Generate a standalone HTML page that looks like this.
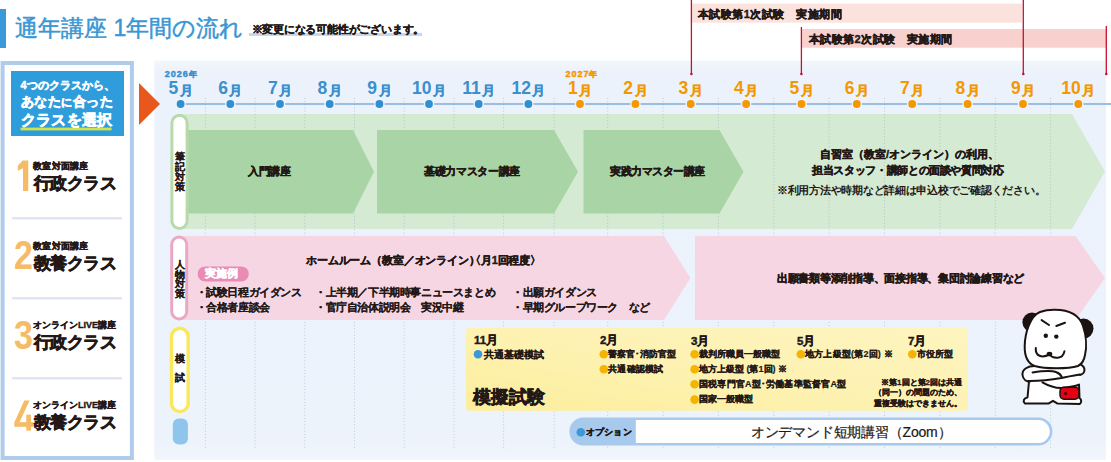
<!DOCTYPE html>
<html><head><meta charset="utf-8"><title>通年講座 1年間の流れ</title>
<style>
html,body{margin:0;padding:0}
body{width:1111px;height:462px;position:relative;overflow:hidden;background:#fff;font-family:"Liberation Sans",sans-serif;color:#231815}
.a{position:absolute;white-space:nowrap;line-height:1}
.b{font-weight:bold}
.h{font-weight:bold;-webkit-text-stroke-width:0.42px}
svg{position:absolute;left:0;top:0}
</style></head><body>

<svg width="1111" height="462" viewBox="0 0 1111 462">
<defs><linearGradient id="tlbg" x1="0" y1="0" x2="0" y2="1"><stop offset="0" stop-color="#f3f7fc"/><stop offset="0.03" stop-color="#ecf2fb"/><stop offset="0.95" stop-color="#edf3fb"/><stop offset="1" stop-color="#f1f6fc"/></linearGradient><linearGradient id="ylw" x1="0" y1="1" x2="1" y2="0"><stop offset="0" stop-color="#fcee9c"/><stop offset="0.5" stop-color="#fdf2b2"/><stop offset="1" stop-color="#fdf5c0"/></linearGradient></defs>
<rect x="0" y="9" width="6" height="39" fill="#3a9ad9"/>
<rect x="249" y="33" width="173" height="3" fill="#c6d8ee"/>
<rect x="692" y="3.6" width="330" height="19" fill="#fce2dd"/>
<rect x="802" y="29" width="304.3" height="18.7" fill="#f8d0cd"/>
<rect x="154.3" y="60.5" width="951.7" height="399.3" fill="url(#tlbg)"/>
<rect x="2.6" y="63" width="129.3" height="395" fill="#fff" stroke="#b0ccec" stroke-width="4"/>
<rect x="11" y="71" width="113" height="65" fill="#2f9cdb"/>
<rect x="20.5" y="127.6" width="91" height="2.8" fill="#cfe34a"/>
<rect x="12" y="217" width="110" height="2.5" fill="#dfe5f4"/>
<rect x="12" y="297" width="110" height="2.5" fill="#dfe5f4"/>
<rect x="12" y="377" width="110" height="2.5" fill="#dfe5f4"/>
<polygon points="139,83 160,104 139,125" fill="#e8581c"/>
<rect x="184" y="103.1" width="927" height="1.8" fill="#93b8dc"/>
<line x1="691.4" y1="0" x2="691.4" y2="74" stroke="#c8102e" stroke-width="1.3"/>
<circle cx="691.4" cy="74" r="1.3" fill="#c8102e"/>
<line x1="801.4" y1="27" x2="801.4" y2="74" stroke="#c8102e" stroke-width="1.3"/>
<circle cx="801.4" cy="74" r="1.3" fill="#c8102e"/>
<line x1="1023.3" y1="0" x2="1023.3" y2="74" stroke="#c8102e" stroke-width="1.3"/>
<circle cx="1023.3" cy="74" r="1.3" fill="#c8102e"/>
<line x1="1106.3" y1="26" x2="1106.3" y2="74" stroke="#c8102e" stroke-width="1.3"/>
<circle cx="1106.3" cy="74" r="1.3" fill="#c8102e"/>
<circle cx="180.6" cy="104" r="5.3" fill="#edf3fb"/>
<circle cx="180.6" cy="104" r="3.9" fill="#2f8fd0"/>
<circle cx="230.3" cy="104" r="5.3" fill="#edf3fb"/>
<circle cx="230.3" cy="104" r="3.9" fill="#2f8fd0"/>
<circle cx="280.0" cy="104" r="5.3" fill="#edf3fb"/>
<circle cx="280.0" cy="104" r="3.9" fill="#2f8fd0"/>
<circle cx="329.7" cy="104" r="5.3" fill="#edf3fb"/>
<circle cx="329.7" cy="104" r="3.9" fill="#2f8fd0"/>
<circle cx="379.4" cy="104" r="5.3" fill="#edf3fb"/>
<circle cx="379.4" cy="104" r="3.9" fill="#2f8fd0"/>
<circle cx="429.0" cy="104" r="5.3" fill="#edf3fb"/>
<circle cx="429.0" cy="104" r="3.9" fill="#2f8fd0"/>
<circle cx="478.7" cy="104" r="5.3" fill="#edf3fb"/>
<circle cx="478.7" cy="104" r="3.9" fill="#2f8fd0"/>
<circle cx="528.4" cy="104" r="5.3" fill="#edf3fb"/>
<circle cx="528.4" cy="104" r="3.9" fill="#2f8fd0"/>
<circle cx="580.0" cy="104" r="5.3" fill="#edf3fb"/>
<circle cx="580.0" cy="104" r="3.9" fill="#f39800"/>
<circle cx="635.4" cy="104" r="5.3" fill="#edf3fb"/>
<circle cx="635.4" cy="104" r="3.9" fill="#f39800"/>
<circle cx="690.7" cy="104" r="5.3" fill="#edf3fb"/>
<circle cx="690.7" cy="104" r="3.9" fill="#f39800"/>
<circle cx="746.1" cy="104" r="5.3" fill="#edf3fb"/>
<circle cx="746.1" cy="104" r="3.9" fill="#f39800"/>
<circle cx="801.5" cy="104" r="5.3" fill="#edf3fb"/>
<circle cx="801.5" cy="104" r="3.9" fill="#f39800"/>
<circle cx="856.8" cy="104" r="5.3" fill="#edf3fb"/>
<circle cx="856.8" cy="104" r="3.9" fill="#f39800"/>
<circle cx="912.2" cy="104" r="5.3" fill="#edf3fb"/>
<circle cx="912.2" cy="104" r="3.9" fill="#f39800"/>
<circle cx="967.6" cy="104" r="5.3" fill="#edf3fb"/>
<circle cx="967.6" cy="104" r="3.9" fill="#f39800"/>
<circle cx="1023.0" cy="104" r="5.3" fill="#edf3fb"/>
<circle cx="1023.0" cy="104" r="3.9" fill="#f39800"/>
<circle cx="1078.3" cy="104" r="5.3" fill="#edf3fb"/>
<circle cx="1078.3" cy="104" r="3.9" fill="#f39800"/>
<polygon points="180,114 1072,114 1105,171.5 1072,229 180,229" fill="#d5ead3"/>
<line x1="205.4" y1="98" x2="205.4" y2="448" stroke="#7f93b3" stroke-opacity="0.42" stroke-width="1" stroke-dasharray="1 2.2"/>
<line x1="255.1" y1="98" x2="255.1" y2="448" stroke="#7f93b3" stroke-opacity="0.42" stroke-width="1" stroke-dasharray="1 2.2"/>
<line x1="304.8" y1="98" x2="304.8" y2="448" stroke="#7f93b3" stroke-opacity="0.42" stroke-width="1" stroke-dasharray="1 2.2"/>
<line x1="354.5" y1="98" x2="354.5" y2="448" stroke="#7f93b3" stroke-opacity="0.42" stroke-width="1" stroke-dasharray="1 2.2"/>
<line x1="404.2" y1="98" x2="404.2" y2="448" stroke="#7f93b3" stroke-opacity="0.42" stroke-width="1" stroke-dasharray="1 2.2"/>
<line x1="453.9" y1="98" x2="453.9" y2="448" stroke="#7f93b3" stroke-opacity="0.42" stroke-width="1" stroke-dasharray="1 2.2"/>
<line x1="503.6" y1="98" x2="503.6" y2="448" stroke="#7f93b3" stroke-opacity="0.42" stroke-width="1" stroke-dasharray="1 2.2"/>
<line x1="554.2" y1="98" x2="554.2" y2="448" stroke="#7f93b3" stroke-opacity="0.42" stroke-width="1" stroke-dasharray="1 2.2"/>
<line x1="607.7" y1="98" x2="607.7" y2="448" stroke="#7f93b3" stroke-opacity="0.42" stroke-width="1" stroke-dasharray="1 2.2"/>
<line x1="663.1" y1="98" x2="663.1" y2="448" stroke="#7f93b3" stroke-opacity="0.42" stroke-width="1" stroke-dasharray="1 2.2"/>
<line x1="718.4" y1="98" x2="718.4" y2="448" stroke="#7f93b3" stroke-opacity="0.42" stroke-width="1" stroke-dasharray="1 2.2"/>
<line x1="773.8" y1="98" x2="773.8" y2="448" stroke="#7f93b3" stroke-opacity="0.42" stroke-width="1" stroke-dasharray="1 2.2"/>
<line x1="829.2" y1="98" x2="829.2" y2="448" stroke="#7f93b3" stroke-opacity="0.42" stroke-width="1" stroke-dasharray="1 2.2"/>
<line x1="884.5" y1="98" x2="884.5" y2="448" stroke="#7f93b3" stroke-opacity="0.42" stroke-width="1" stroke-dasharray="1 2.2"/>
<line x1="939.9" y1="98" x2="939.9" y2="448" stroke="#7f93b3" stroke-opacity="0.42" stroke-width="1" stroke-dasharray="1 2.2"/>
<line x1="995.3" y1="98" x2="995.3" y2="448" stroke="#7f93b3" stroke-opacity="0.42" stroke-width="1" stroke-dasharray="1 2.2"/>
<line x1="1050.6" y1="98" x2="1050.6" y2="448" stroke="#7f93b3" stroke-opacity="0.42" stroke-width="1" stroke-dasharray="1 2.2"/>
<polygon points="187,130 353,130 374,171.8 353,213.6 187,213.6" fill="#a9d5a6"/>
<polygon points="377,130 554,130 578,171.8 554,213.6 377,213.6" fill="#a9d5a6"/>
<polygon points="583.5,130 719.5,130 743.5,171.8 719.5,213.6 583.5,213.6" fill="#a9d5a6"/>
<polygon points="180,236 664,236 690.5,278 664,320 180,320" fill="#f7d6e4"/>
<polygon points="695,236 1075.5,236 1105,278 1075.5,320 695,320" fill="#f7d6e4"/>
<rect x="171.9" y="115.3" width="15.2" height="113.2" rx="7.6" fill="#fff" stroke="#b8d9aa" stroke-width="3"/>
<rect x="171.7" y="237" width="15" height="82" rx="7.5" fill="#fff" stroke="#eaa8c4" stroke-width="3"/>
<rect x="171.5" y="328.3" width="16.7" height="83.3" rx="8.3" fill="#fff" stroke="#f9e85a" stroke-width="3.4"/>
<rect x="172.8" y="418.5" width="15.1" height="26" rx="6" fill="#8ec5ed"/>
<rect x="197.6" y="266.4" width="51.2" height="15" rx="7.5" fill="#e98cb4"/>
<rect x="466" y="327.7" width="502" height="83" rx="4" fill="url(#ylw)"/>
<circle cx="478" cy="354.3" r="4.3" fill="#3a9ad9"/>
<circle cx="603.8" cy="354.3" r="4.3" fill="#f5b400"/>
<circle cx="603.8" cy="369.3" r="4.3" fill="#f5b400"/>
<circle cx="694.6" cy="354.3" r="4.3" fill="#f5b400"/>
<circle cx="694.6" cy="369.3" r="4.3" fill="#f5b400"/>
<circle cx="694.6" cy="384.3" r="4.3" fill="#f5b400"/>
<circle cx="694.6" cy="399.6" r="4.3" fill="#f5b400"/>
<circle cx="800.8" cy="354.3" r="4.3" fill="#f5b400"/>
<circle cx="912.3" cy="354.3" r="4.3" fill="#f5b400"/>
<rect x="569.4" y="417.4" width="483" height="28.2" rx="14.1" fill="#a7caec"/>
<path d="M635.8,420.1 L1038.3,420.1 A11.5,11.5 0 0 1 1038.3,443.1 L635.8,443.1 Z" fill="#fff"/>
<circle cx="580.8" cy="432.3" r="4.3" fill="#3a9ad9"/>
<circle cx="1032" cy="322.2" r="9.6" fill="#1a1311"/>
<circle cx="1083.5" cy="328.6" r="10" fill="#1a1311"/>
<path d="M1024,368 L1021.5,375 L1027,381.5 L1029,381.5 L1027.5,397.5 L1023.5,400 L1024.8,403.4 L1048.8,403.4 L1053,400.8 L1057.2,403.4 L1079.7,404 L1081,400 L1079,385 L1082,374 L1084,363 L1034,364 Z" fill="#fff"/>
<g stroke="#1a1311" stroke-width="2" fill="none" stroke-linecap="round" stroke-linejoin="round">
<path d="M1034.7,366 C1028,366 1022,369 1022.5,375 C1023,380 1027,381.5 1030,381.5"/>
<path d="M1029,381.5 L1027.5,397.5 C1024,398 1022.5,401 1024.8,403.4 L1048.8,403.4 L1053,400.8 L1057.2,403.4 L1079.7,404 C1082,402 1081.5,399.5 1079.5,398 L1079,384.5"/>
<path d="M1081,364.7 C1086,368 1085.5,373.5 1080,375"/>
<path d="M1032.6,372.4 C1042,371 1052,370.5 1056,372 C1059,373 1061,375 1062,377.5"/>
<path d="M1028.4,380.9 C1038,381 1050,380 1061.4,378 C1068,376.5 1074,375.5 1080,374.5"/>
<path d="M1042.4,382.3 C1048,385.5 1054,388 1061.4,387.9 C1068,387.5 1074,386.5 1078.3,385"/>
</g>
<path d="M1054,309.7 C1068,309.5 1079,314 1083,326 C1086,335 1087,347 1085,355 C1084,361 1082,364 1078,366 C1068,369 1045,369 1034.7,366 C1027,363 1024.5,356 1024.7,346 C1025,333 1030,316 1040,312 C1044,310.5 1049,309.7 1054,309.7 Z" fill="#fff" stroke="#1a1311" stroke-width="2"/>
<g stroke="#1a1311" stroke-width="2" fill="none" stroke-linecap="round">
<path d="M1041.6,320.1 L1049,325"/>
<path d="M1056.3,326 L1065,322.7"/>
<path d="M1035.8,348 C1035,356 1042,358.5 1049.4,354.5 C1053,359 1063,359.5 1064.4,351.3"/>
</g>
<circle cx="1045.8" cy="335.7" r="2.2" fill="#1a1311"/>
<circle cx="1056.3" cy="336.6" r="2.2" fill="#1a1311"/>
<ellipse cx="1049.5" cy="354" rx="2.8" ry="2.3" fill="#1a1311"/>
<rect x="1060" y="387.2" width="19" height="12" rx="4" fill="#e60012" stroke="#1a1311" stroke-width="1.5"/>
<circle cx="1065.6" cy="393.5" r="1.6" fill="#3a0a0a"/>
<g fill="#f5bb66"><polygon points="22.6,160.6 28.3,160.6 28.3,191 23,191 23,168.2 17.8,170.8 17.8,165.8"/><polygon points="24.3,400.6 29.6,400.6 19.4,422.4 14.3,422.4"/><rect x="14.3" y="422.2" width="18.8" height="4.6"/><rect x="26.3" y="414.6" width="4.7" height="16"/></g>
</svg>
<div class="a" style="left:15px;top:17px;font-size:23px;color:#3b96d3;-webkit-text-stroke-width:0.5px;">通年講座 1年間の流れ</div>
<div class="a h" style="left:251.5px;top:24px;font-size:11px;color:#231815;-webkit-text-stroke-width:0.28px;letter-spacing:-0.21px;">※変更になる可能性がございます。</div>
<div class="a h" style="left:698px;top:9px;font-size:11px;color:#231815;letter-spacing:0.45px;">本試験第1次試験　実施期間</div>
<div class="a h" style="left:809px;top:34px;font-size:11px;color:#231815;letter-spacing:0.4px;">本試験第2次試験　実施期間</div>
<div class="a h" style="left:20.5px;top:80px;font-size:11px;color:#fff;-webkit-text-stroke-width:0.5px;">4つのクラスから、</div>
<div class="a h" style="left:20.5px;top:94.5px;font-size:13px;color:#fff;-webkit-text-stroke-width:0.6px;letter-spacing:0.5px;">あなた<span style="font-size:11px">に</span>合った</div>
<div class="a h" style="left:20.5px;top:112px;font-size:15px;color:#fff;-webkit-text-stroke-width:0.7px;letter-spacing:0.4px;">クラスを選択</div>
<div class="a h" style="left:33px;top:162px;font-size:9px;color:#231815;-webkit-text-stroke-width:0.35px;letter-spacing:0.3px;">教室対面講座</div>
<div class="a h" style="left:33.5px;top:175px;font-size:17px;color:#231815;-webkit-text-stroke-width:0.7px;letter-spacing:-0.37px;">行政クラス</div>
<div class="a b" style="left:14px;top:234.1px;font-size:41.5px;color:#f5bb66;transform:scaleX(0.82);transform-origin:0 0">2</div>
<div class="a h" style="left:33px;top:241.6px;font-size:9px;color:#231815;-webkit-text-stroke-width:0.35px;letter-spacing:0.3px;">教室対面講座</div>
<div class="a h" style="left:33.5px;top:254.6px;font-size:17px;color:#231815;-webkit-text-stroke-width:0.7px;letter-spacing:-0.37px;">教養クラス</div>
<div class="a b" style="left:14px;top:313.5px;font-size:41.5px;color:#f5bb66;transform:scaleX(0.82);transform-origin:0 0">3</div>
<div class="a h" style="left:33px;top:321px;font-size:9px;color:#231815;-webkit-text-stroke-width:0.35px;letter-spacing:0px;">オンラインLIVE講座</div>
<div class="a h" style="left:33.5px;top:334px;font-size:17px;color:#231815;-webkit-text-stroke-width:0.7px;letter-spacing:-0.37px;">行政クラス</div>
<div class="a h" style="left:33px;top:401.4px;font-size:9px;color:#231815;-webkit-text-stroke-width:0.35px;letter-spacing:0px;">オンラインLIVE講座</div>
<div class="a h" style="left:33.5px;top:414.4px;font-size:17px;color:#231815;-webkit-text-stroke-width:0.7px;letter-spacing:-0.37px;">教養クラス</div>
<div class="a b" style="left:164.8px;top:70.3px;font-size:9px;color:#3a8fcf;-webkit-text-stroke-width:0.45px;letter-spacing:0.95px;">2026<span style="font-size:7.5px;letter-spacing:0">年</span></div>
<div class="a b" style="left:565.6px;top:70.3px;font-size:9px;color:#f39800;-webkit-text-stroke-width:0.45px;letter-spacing:0.95px;">2027<span style="font-size:7.5px;letter-spacing:0">年</span></div>
<div class="a b" style="left:140.6px;top:80.2px;width:80px;text-align:center;font-size:17.5px;color:#3a8fcf">5<span style="font-size:13px;-webkit-text-stroke-width:0.35px;margin-left:1.5px;position:relative;top:0.5px">月</span></div>
<div class="a b" style="left:190.3px;top:80.2px;width:80px;text-align:center;font-size:17.5px;color:#3a8fcf">6<span style="font-size:13px;-webkit-text-stroke-width:0.35px;margin-left:1.5px;position:relative;top:0.5px">月</span></div>
<div class="a b" style="left:240.0px;top:80.2px;width:80px;text-align:center;font-size:17.5px;color:#3a8fcf">7<span style="font-size:13px;-webkit-text-stroke-width:0.35px;margin-left:1.5px;position:relative;top:0.5px">月</span></div>
<div class="a b" style="left:289.7px;top:80.2px;width:80px;text-align:center;font-size:17.5px;color:#3a8fcf">8<span style="font-size:13px;-webkit-text-stroke-width:0.35px;margin-left:1.5px;position:relative;top:0.5px">月</span></div>
<div class="a b" style="left:339.4px;top:80.2px;width:80px;text-align:center;font-size:17.5px;color:#3a8fcf">9<span style="font-size:13px;-webkit-text-stroke-width:0.35px;margin-left:1.5px;position:relative;top:0.5px">月</span></div>
<div class="a b" style="left:389.0px;top:80.2px;width:80px;text-align:center;font-size:17.5px;color:#3a8fcf">10<span style="font-size:13px;-webkit-text-stroke-width:0.35px;margin-left:1.5px;position:relative;top:0.5px">月</span></div>
<div class="a b" style="left:438.7px;top:80.2px;width:80px;text-align:center;font-size:17.5px;color:#3a8fcf">11<span style="font-size:13px;-webkit-text-stroke-width:0.35px;margin-left:1.5px;position:relative;top:0.5px">月</span></div>
<div class="a b" style="left:488.4px;top:80.2px;width:80px;text-align:center;font-size:17.5px;color:#3a8fcf">12<span style="font-size:13px;-webkit-text-stroke-width:0.35px;margin-left:1.5px;position:relative;top:0.5px">月</span></div>
<div class="a b" style="left:540.0px;top:80.2px;width:80px;text-align:center;font-size:17.5px;color:#f39800">1<span style="font-size:13px;-webkit-text-stroke-width:0.35px;margin-left:1.5px;position:relative;top:0.5px">月</span></div>
<div class="a b" style="left:595.4px;top:80.2px;width:80px;text-align:center;font-size:17.5px;color:#f39800">2<span style="font-size:13px;-webkit-text-stroke-width:0.35px;margin-left:1.5px;position:relative;top:0.5px">月</span></div>
<div class="a b" style="left:650.7px;top:80.2px;width:80px;text-align:center;font-size:17.5px;color:#f39800">3<span style="font-size:13px;-webkit-text-stroke-width:0.35px;margin-left:1.5px;position:relative;top:0.5px">月</span></div>
<div class="a b" style="left:706.1px;top:80.2px;width:80px;text-align:center;font-size:17.5px;color:#f39800">4<span style="font-size:13px;-webkit-text-stroke-width:0.35px;margin-left:1.5px;position:relative;top:0.5px">月</span></div>
<div class="a b" style="left:761.5px;top:80.2px;width:80px;text-align:center;font-size:17.5px;color:#f39800">5<span style="font-size:13px;-webkit-text-stroke-width:0.35px;margin-left:1.5px;position:relative;top:0.5px">月</span></div>
<div class="a b" style="left:816.8px;top:80.2px;width:80px;text-align:center;font-size:17.5px;color:#f39800">6<span style="font-size:13px;-webkit-text-stroke-width:0.35px;margin-left:1.5px;position:relative;top:0.5px">月</span></div>
<div class="a b" style="left:872.2px;top:80.2px;width:80px;text-align:center;font-size:17.5px;color:#f39800">7<span style="font-size:13px;-webkit-text-stroke-width:0.35px;margin-left:1.5px;position:relative;top:0.5px">月</span></div>
<div class="a b" style="left:927.6px;top:80.2px;width:80px;text-align:center;font-size:17.5px;color:#f39800">8<span style="font-size:13px;-webkit-text-stroke-width:0.35px;margin-left:1.5px;position:relative;top:0.5px">月</span></div>
<div class="a b" style="left:983.0px;top:80.2px;width:80px;text-align:center;font-size:17.5px;color:#f39800">9<span style="font-size:13px;-webkit-text-stroke-width:0.35px;margin-left:1.5px;position:relative;top:0.5px">月</span></div>
<div class="a b" style="left:1038.3px;top:80.2px;width:80px;text-align:center;font-size:17.5px;color:#f39800">10<span style="font-size:13px;-webkit-text-stroke-width:0.35px;margin-left:1.5px;position:relative;top:0.5px">月</span></div>
<div class="a b" style="left:174.5px;top:151.5px;font-size:10px;width:10px;white-space:normal;line-height:10px;text-align:center;-webkit-text-stroke-width:0.2px">筆<br>記<br>対<br>策</div>
<div class="a b" style="left:174.5px;top:260px;font-size:10px;width:10px;white-space:normal;line-height:9.7px;text-align:center;-webkit-text-stroke-width:0.2px">人<br>物<br>対<br>策</div>
<div class="a b" style="left:175px;top:350.3px;font-size:10px;width:10px;white-space:normal;line-height:18.6px;text-align:center;-webkit-text-stroke-width:0.2px">模<br>試</div>
<div class="a h" style="left:248px;top:166px;font-size:11px;color:#231815;letter-spacing:-0.4px;">入門講座</div>
<div class="a h" style="left:424px;top:166px;font-size:11px;color:#231815;letter-spacing:-0.33px;">基礎力マスター講座</div>
<div class="a h" style="left:610px;top:166px;font-size:11px;color:#231815;letter-spacing:-0.44px;">実践力マスター講座</div>
<div class="a h" style="left:820px;top:149px;font-size:11px;color:#231815;">自習室（教室/オンライン）の利用、</div>
<div class="a h" style="left:812px;top:165px;font-size:11px;color:#231815;letter-spacing:-0.35px;">担当スタッフ・講師との面談や質問対応</div>
<div class="a b" style="left:777px;top:184.5px;font-size:11px;color:#231815;letter-spacing:-0.27px;">※利用方法や時期など詳細は申込校でご確認ください。</div>
<div class="a h" style="left:306px;top:255px;font-size:11px;color:#231815;letter-spacing:-0.14px;">ホームルーム（教室／オンライン<span style="margin-right:-0.45em">）</span><span style="margin-left:-0.45em">〈</span>月1回程度〉</div>
<div class="a h" style="left:205px;top:268px;font-size:11px;color:#fff;">実施例</div>
<div class="a b" style="left:195.5px;top:286.5px;font-size:11px;color:#231815;-webkit-text-stroke-width:0.1px;letter-spacing:-0.4px;">・試験日程ガイダンス</div>
<div class="a b" style="left:195.5px;top:301.5px;font-size:11px;color:#231815;-webkit-text-stroke-width:0.1px;letter-spacing:-0.4px;">・合格者座談会</div>
<div class="a b" style="left:315px;top:286.5px;font-size:11px;color:#231815;-webkit-text-stroke-width:0.1px;letter-spacing:-0.4px;">・上半期／下半期時事ニュースまとめ</div>
<div class="a b" style="left:315px;top:301.5px;font-size:11px;color:#231815;-webkit-text-stroke-width:0.1px;letter-spacing:-0.4px;">・官庁自治体説明会　実況中継</div>
<div class="a b" style="left:512px;top:286.5px;font-size:11px;color:#231815;-webkit-text-stroke-width:0.1px;letter-spacing:-0.4px;">・出願ガイダンス</div>
<div class="a b" style="left:512px;top:301.5px;font-size:11px;color:#231815;-webkit-text-stroke-width:0.1px;letter-spacing:-0.4px;">・早期グループワーク　など</div>
<div class="a h" style="left:777px;top:272.5px;font-size:11px;color:#231815;letter-spacing:-0.26px;">出願書類等添削指導、面接指導、集団討論練習など</div>
<div class="a h" style="left:474px;top:335px;font-size:11.5px;color:#231815;">11月</div>
<div class="a b" style="left:483.5px;top:349.5px;font-size:10px;color:#231815;-webkit-text-stroke-width:0.2px;">共通基礎模試</div>
<div class="a h" style="left:473px;top:388px;font-size:18px;color:#231815;-webkit-text-stroke-width:0.6px;">模擬試験</div>
<div class="a h" style="left:600px;top:335px;font-size:11.5px;color:#231815;">2月</div>
<div class="a b" style="left:608px;top:350px;font-size:9px;color:#231815;-webkit-text-stroke-width:0.2px;">警察官･消防官型</div>
<div class="a b" style="left:608px;top:365px;font-size:9px;color:#231815;-webkit-text-stroke-width:0.2px;letter-spacing:0.3px;">共通確認模試</div>
<div class="a h" style="left:691px;top:335.5px;font-size:11.5px;color:#231815;">3月</div>
<div class="a b" style="left:699px;top:350px;font-size:9px;color:#231815;-webkit-text-stroke-width:0.2px;">裁判所職員一般職型</div>
<div class="a b" style="left:699px;top:365px;font-size:9px;color:#231815;-webkit-text-stroke-width:0.2px;">地方上級型 (第1回) ※</div>
<div class="a b" style="left:699px;top:380px;font-size:9px;color:#231815;-webkit-text-stroke-width:0.2px;letter-spacing:0.2px;">国税専門官A型･労働基準監督官A型</div>
<div class="a b" style="left:699px;top:395px;font-size:9px;color:#231815;-webkit-text-stroke-width:0.2px;">国家一般職型</div>
<div class="a h" style="left:797px;top:335.5px;font-size:11.5px;color:#231815;">5月</div>
<div class="a b" style="left:805px;top:350px;font-size:9px;color:#231815;-webkit-text-stroke-width:0.2px;letter-spacing:0.2px;">地方上級型(第2回) ※</div>
<div class="a h" style="left:908px;top:335.5px;font-size:11.5px;color:#231815;">7月</div>
<div class="a b" style="left:916.5px;top:350px;font-size:9px;color:#231815;-webkit-text-stroke-width:0.2px;">市役所型</div>
<div class="a b" style="left:850px;top:377.5px;width:112px;text-align:right;font-size:8px;line-height:10.5px;white-space:normal;-webkit-text-stroke-width:0.3px">※第1回と第2回は共通<br>（同一）の問題のため、<br>重複受験はできません。</div>
<div class="a h" style="left:585.5px;top:428px;font-size:9px;color:#231815;letter-spacing:0.3px;">オプション</div>
<div class="a" style="left:750.8px;top:424.5px;font-size:14px;color:#231815;-webkit-text-stroke-width:0.2px;letter-spacing:-0.2px;">オンデマンド短期講習（Zoom）</div>
</body></html>
